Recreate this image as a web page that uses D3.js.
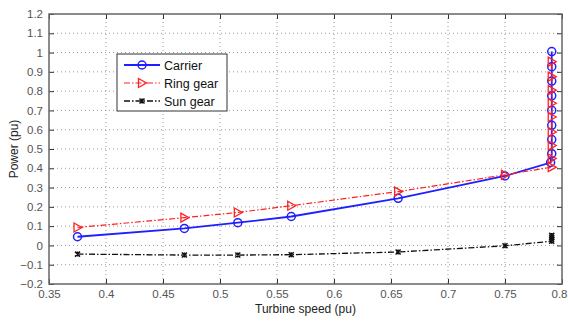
<!DOCTYPE html>
<meta charset="utf-8">
<style>
  body { margin: 0; background: #fff; }
  text { font-family: "Liberation Sans", Arial, sans-serif; }
</style>
<body>
<script src="https://d3js.org/d3.v7.min.js"></script>
<script>
  // turbine speed (pu) for each operating point
  var carrierSpeed = [0.375, 0.46875, 0.515625, 0.5625, 0.65625, 0.75, 0.79, 0.791, 0.791, 0.791, 0.791, 0.791, 0.791, 0.791, 0.791];
  var carrierPower = [0.045, 0.088, 0.118, 0.15, 0.244, 0.36, 0.43, 0.476, 0.549, 0.623, 0.701, 0.776, 0.852, 0.927, 1.005];

  var ringSpeed = [0.375, 0.46875, 0.515625, 0.5625, 0.65625, 0.75, 0.791, 0.791, 0.791, 0.791, 0.791, 0.791, 0.791, 0.791, 0.791];
  var ringPower = [0.093, 0.144, 0.171, 0.206, 0.279, 0.366, 0.406, 0.451, 0.518, 0.588, 0.666, 0.737, 0.805, 0.875, 0.953];

  var sunSpeed = [0.375, 0.46875, 0.515625, 0.5625, 0.65625, 0.75, 0.791, 0.791, 0.791, 0.791];
  var sunPower = [-0.045, -0.05, -0.05, -0.048, -0.034, -0.002, 0.022, 0.032, 0.042, 0.052];

  var xTicks = [0.35, 0.4, 0.45, 0.5, 0.55, 0.6, 0.65, 0.7, 0.75, 0.8];
  var yTicks = [-0.2, -0.1, 0, 0.1, 0.2, 0.3, 0.4, 0.5, 0.6, 0.7, 0.8, 0.9, 1, 1.1, 1.2];

  var seriesNames = ["Carrier", "Ring gear", "Sun gear"];

  var svg = d3.select("body").append("svg")
      .attr("width", 568)
      .attr("height", 322);

  var margin = {top: 14, right: 6, bottom: 38, left: 49},
      width = 568 - margin.left - margin.right,
      height = 322 - margin.top - margin.bottom,
      g = svg.append("g").attr("transform", "translate(" + margin.left + "," + margin.top + ")");

  var x = d3.scaleLinear().domain([0.35, 0.8]).range([0, width]);
  var y = d3.scaleLinear().domain([-0.2, 1.2]).range([height, 0]);

  // dotted grid
  g.append("g").selectAll("line").data(xTicks.slice(1, -1)).enter().append("line")
      .attr("x1", function(d) { return x(d); }).attr("x2", function(d) { return x(d); })
      .attr("y1", 0).attr("y2", height)
      .attr("stroke", "#999").attr("stroke-width", 1).attr("stroke-dasharray", "1,3");
  g.append("g").selectAll("line").data(yTicks.slice(1, -1)).enter().append("line")
      .attr("y1", function(d) { return y(d); }).attr("y2", function(d) { return y(d); })
      .attr("x1", 0).attr("x2", width)
      .attr("stroke", "#999").attr("stroke-width", 1).attr("stroke-dasharray", "1,3");

  // axes, ticks pointing inward like matlab
  function fmt(d) { return d3.format("~g")(+d.toFixed(2)); }
  var axB = g.append("g").attr("transform", "translate(0," + height + ")")
      .call(d3.axisBottom(x).tickValues(xTicks).tickFormat(fmt).tickSizeInner(-5).tickSizeOuter(0).tickPadding(6));
  g.append("g")
      .call(d3.axisLeft(y).tickValues(yTicks).tickFormat(fmt).tickSizeInner(-5).tickSizeOuter(0).tickPadding(6));
  g.append("g").call(d3.axisTop(x).tickValues(xTicks).tickFormat("").tickSizeInner(-5).tickSizeOuter(0));
  g.append("g").attr("transform", "translate(" + width + ",0)")
      .call(d3.axisRight(y).tickValues(yTicks).tickFormat("").tickSizeInner(-5).tickSizeOuter(0));
  g.selectAll(".domain").remove();
  g.selectAll(".tick line").attr("stroke", "#333");
  g.selectAll(".tick text").attr("fill", "#555").style("font-size", "11.5px");
  // last label sits at the window edge, nudge it inside
  axB.selectAll(".tick text").filter(function(d) { return d === 0.8; }).attr("dx", "-3");

  g.append("rect").attr("width", width).attr("height", height)
      .attr("fill", "none").attr("stroke", "#666").attr("stroke-width", 1.5);

  svg.append("text").attr("x", margin.left + width / 2).attr("y", 313)
      .attr("text-anchor", "middle").style("font-size", "12px").attr("fill", "#222")
      .text("Turbine speed (pu)");
  svg.append("text").attr("transform", "translate(18," + (margin.top + height / 2) + ") rotate(-90)")
      .attr("text-anchor", "middle").style("font-size", "12px").attr("fill", "#222")
      .text("Power (pu)");

  var line = d3.line().x(function(d) { return x(d[0]); }).y(function(d) { return y(d[1]); });

  function drawCircle(sel, color) {
    sel.append("circle").attr("r", 4).attr("fill", "none").attr("stroke", color).attr("stroke-width", 1.5);
  }
  function drawTriangle(sel, color) {
    sel.append("path").attr("d", "M-3.5,-4.5L4.5,0L-3.5,4.5Z").attr("fill", "none")
        .attr("stroke", color).attr("stroke-width", 1.3);
  }
  function drawX(sel, color) {
    sel.append("path").attr("d", "M-2.5,-2.5L2.5,2.5M-2.5,2.5L2.5,-2.5M0,-2.5L0,2.5").attr("fill", "none")
        .attr("stroke", color).attr("stroke-width", 1.5);
  }

  var series = [
    {name: seriesNames[0], xs: carrierSpeed, ys: carrierPower, color: "#1f1fff", dash: null, width: 1.8, marker: drawCircle},
    {name: seriesNames[1], xs: ringSpeed, ys: ringPower, color: "#ff2020", dash: "6,2,1.5,2", width: 1.2, marker: drawTriangle},
    {name: seriesNames[2], xs: sunSpeed, ys: sunPower, color: "#111", dash: "6,2,1.5,2", width: 1.3, marker: drawX}
  ];

  series.forEach(function(s) {
    var pts = s.xs.map(function(v, i) { return [v, s.ys[i]]; });
    g.append("path").datum(pts).attr("d", line).attr("fill", "none")
        .attr("stroke", s.color).attr("stroke-width", s.width)
        .attr("stroke-dasharray", s.dash);
    g.append("g").selectAll("g").data(pts).enter().append("g")
        .attr("transform", function(d) { return "translate(" + x(d[0]) + "," + y(d[1]) + ")"; })
        .each(function() { s.marker(d3.select(this), s.color); });
  });

  // legend
  var legend = svg.append("g").attr("transform", "translate(117,54)");
  legend.append("rect").attr("width", 110).attr("height", 57)
      .attr("fill", "#fff").attr("stroke", "#333").attr("stroke-width", 1);
  series.forEach(function(s, i) {
    var ly = 11 + i * 18;
    legend.append("line").attr("x1", 7).attr("x2", 43).attr("y1", ly).attr("y2", ly)
        .attr("stroke", s.color).attr("stroke-width", s.width).attr("stroke-dasharray", s.dash);
    var m = legend.append("g").attr("transform", "translate(25," + ly + ")");
    s.marker(m, s.color);
    legend.append("text").attr("x", 47).attr("y", ly + 4.5).style("font-size", "12.5px").attr("fill", "#111").text(s.name);
  });
</script>
</body>
</html>
